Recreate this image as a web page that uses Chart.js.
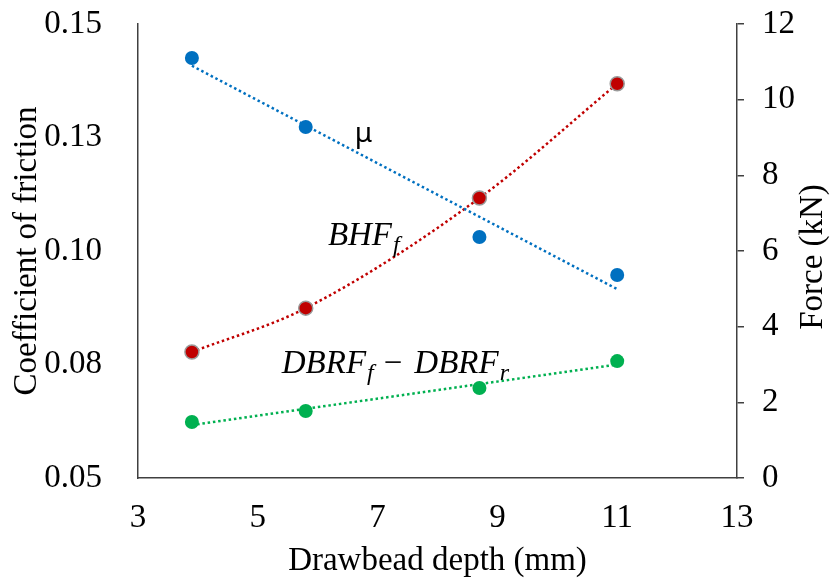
<!DOCTYPE html>
<html>
<head>
<meta charset="utf-8">
<script src="https://cdn.jsdelivr.net/npm/chart.js@4.4.1/dist/chart.umd.min.js"></script>
<style>
  html, body { margin: 0; padding: 0; background: #fff; }
</style>
</head>
<body>
<canvas id="frictionChart" width="839" height="581"></canvas>
<script>
// values
const depth = [3.9, 5.8, 8.7, 11.0];
const mu = [0.1425, 0.1273, 0.1031, 0.0947];          // left axis
const bhf = [3.33, 4.49, 7.40, 10.42];                // right axis, kN
const dbrfDiff = [1.48, 1.77, 2.38, 3.09];            // right axis, kN
// trendline end points (linear ones)
const trendX = [3.9, 11.0];
const muTrend = [0.1408, 0.0916];
const dbrfTrend = [1.40, 3.00];
const leftTickLabels = ['0.05', '0.08', '0.10', '0.13', '0.15'];

const blue = '#0070C0';
const red = '#C00000';
const green = '#00B050';
const axisColor = '#404040';
const serif = "'Liberation Serif', 'Times New Roman', serif";

const pts = (xs, ys) => xs.map((x, i) => ({ x: x, y: ys[i] }));

const dotted = (color, yAxis, data, extra) => Object.assign({
    type: 'line',
    data: data,
    yAxisID: yAxis,
    borderColor: color,
    borderWidth: 2.5,
    borderDash: [2.5, 2.8],
    pointRadius: 0,
    fill: false,
    order: 2
}, extra || {});

const markers = (color, yAxis, data, border) => ({
    type: 'scatter',
    data: data,
    yAxisID: yAxis,
    backgroundColor: color,
    borderColor: border || color,
    borderWidth: border ? 1.5 : 0,
    pointRadius: 7,
    order: 1
});

// fixed box sizes so the plot area sits where the original has it
const fixWidth = w => s => {
    s.width = w;
    s.paddingTop = 0;
    s.paddingBottom = 0;
};

// text labels beside the curves + right axis title (reads bottom to top)
const labelPlugin = {
    id: 'curveLabels',
    afterDatasetsDraw(chart) {
        const c = chart.ctx;
        const x = chart.scales.x, yl = chart.scales.y, yr = chart.scales.y1;
        const area = chart.chartArea;
        c.save();
        c.fillStyle = '#000';
        c.textBaseline = 'alphabetic';
        c.textAlign = 'left';

        c.font = "28px 'Noto Sans', sans-serif";
        c.fillText('μ', x.getPixelForValue(6.62), yl.getPixelForValue(0.124));

        const mathText = (parts, px, py) => {
            let cx = px;
            parts.forEach(p => {
                c.font = p.font;
                c.fillText(p.t, cx + (p.pre || 0), py + (p.dy || 0));
                cx += (p.pre || 0) + c.measureText(p.t).width;
            });
        };
        const big = 'italic 33px ' + serif;
        const sub = 'italic 24px ' + serif;
        const up = '33px ' + serif;

        mathText([
            { t: 'BHF', font: big },
            { t: 'f', font: sub, dy: 7, pre: 1 }
        ], x.getPixelForValue(6.17), yr.getPixelForValue(6.16));

        mathText([
            { t: 'DBRF', font: big },
            { t: 'f', font: sub, dy: 7, pre: 1 },
            { t: '\u2212', font: up, pre: 10 },
            { t: 'DBRF', font: big, pre: 12 },
            { t: 'r', font: sub, dy: 7, pre: 1 }
        ], x.getPixelForValue(5.40), yr.getPixelForValue(2.78));

        c.font = '33px ' + serif;
        c.textAlign = 'center';
        c.textBaseline = 'middle';
        c.translate(813, (area.top + area.bottom) / 2 + 6);
        c.rotate(-Math.PI / 2);
        c.fillText('Force (kN)', 0, 0);
        c.restore();
    }
};

const ctx = document.getElementById('frictionChart').getContext('2d');
const frictionChart = new Chart(ctx, {
    data: {
        datasets: [
            dotted(blue, 'y', pts(trendX, muTrend)),
            dotted(red, 'y1', pts(depth, bhf), { cubicInterpolationMode: 'monotone' }),
            dotted(green, 'y1', pts(trendX, dbrfTrend)),
            markers(blue, 'y', pts(depth, mu)),
            markers(red, 'y1', pts(depth, bhf), '#9a9a9a'),
            markers(green, 'y1', pts(depth, dbrfDiff))
        ]
    },
    options: {
        responsive: false,
        animation: false,
        layout: { padding: { top: 24, left: 0, right: 0, bottom: 0 } },
        plugins: {
            legend: { display: false },
            tooltip: { enabled: false }
        },
        scales: {
            x: {
                type: 'linear',
                min: 3,
                max: 13,
                ticks: { stepSize: 2, color: '#000', font: { family: serif, size: 33 }, padding: 13 },
                grid: { display: false },
                border: { color: axisColor, width: 1.5 },
                title: { display: true, text: 'Drawbead depth (mm)', color: '#000',
                         font: { family: serif, size: 33 }, padding: { top: 0, bottom: 0 } },
                afterFit: s => { s.height = 103; }
            },
            y: {
                position: 'left',
                min: 0.05,
                max: 0.15,
                ticks: {
                    stepSize: 0.025,
                    color: '#000',
                    font: { family: serif, size: 33 },
                    padding: 28,
                    callback: (v, i) => leftTickLabels[i]
                },
                grid: { display: false },
                border: { color: axisColor, width: 1.5 },
                title: { display: true, text: 'Coefficient of friction', color: '#000',
                         font: { family: serif, size: 33 }, padding: { top: 8, bottom: 0 } },
                afterFit: fixWidth(138)
            },
            y1: {
                position: 'right',
                min: 0,
                max: 12,
                ticks: { stepSize: 2, color: '#000', font: { family: serif, size: 33 }, padding: 18 },
                grid: { drawOnChartArea: false, drawTicks: true, tickLength: 7, color: axisColor, lineWidth: 1.5 },
                border: { color: axisColor, width: 1.5 },
                title: { display: false },
                afterFit: fixWidth(102)
            }
        }
    },
    plugins: [labelPlugin]
});
</script>
</body>
</html>
